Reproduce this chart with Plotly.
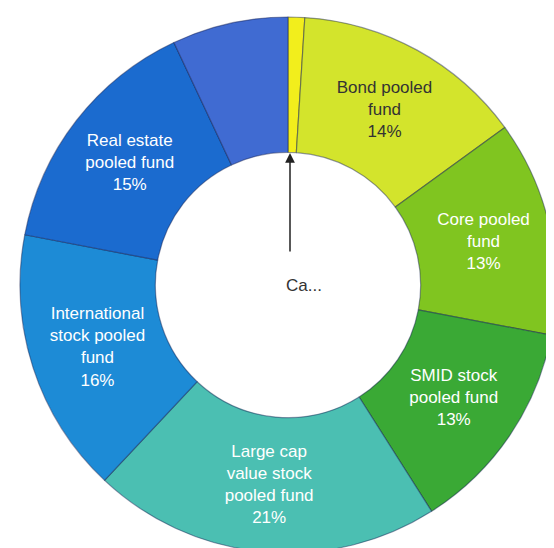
import plotly.graph_objects as go

labels = ["Cash", "Bond pooled fund", "Core pooled fund", "SMID stock pooled fund",
          "Large cap value stock pooled fund", "International stock pooled fund",
          "Real estate pooled fund", "Other"]
display_text = ["", "Bond pooled<br>fund", "Core pooled<br>fund", "SMID stock<br>pooled fund",
                "Large cap<br>value stock<br>pooled fund", "International<br>stock pooled<br>fund",
                "Real estate<br>pooled fund", ""]
values = [1, 14, 13, 13, 21, 16, 15, 7]
colors = ["#f2ee1c", "#d3e42c", "#80c520", "#3aa935", "#4bbfb2", "#1d8bd6", "#1b6bcf", "#406bd2"]
text_colors = ["#222222", "#333333", "white", "white", "white", "white", "white", "white"]

templates = ["" if t == "" else "%{text}<br>%{percent:.0%}" for t in display_text]

W, H = 554, 548
cx, cy, r = 280, 277, 268

fig = go.Figure(go.Pie(
    labels=labels,
    values=values,
    text=display_text,
    texttemplate=templates,
    textposition="inside",
    insidetextorientation="horizontal",
    sort=False,
    direction="clockwise",
    rotation=0,
    hole=0.495,
    marker=dict(colors=colors, line=dict(color="rgba(20,30,80,0.45)", width=1.2)),
    textfont=dict(family="Liberation Sans, Arial, sans-serif", size=17, color=text_colors),
    domain=dict(x=[(cx - r) / W, (cx + r) / W], y=[(H - cy - r) / H, (H - cy + r) / H]),
    showlegend=False,
    hoverinfo="label+percent",
))

# arrow from the center label to the Cash slice
fig.add_annotation(
    x=282 / W, y=(H - 145) / H, xref="paper", yref="paper",
    text="", showarrow=True, arrowhead=2, arrowsize=1.3, arrowwidth=1.5,
    arrowcolor="#222222", ax=0, ay=100,
)
fig.add_annotation(
    x=296 / W, y=(H - 277) / H, xref="paper", yref="paper",
    text="Ca...", showarrow=False,
    font=dict(family="Liberation Sans, Arial, sans-serif", size=17, color="#333333"),
)

fig.update_layout(
    width=W, height=H,
    margin=dict(l=0, r=0, t=0, b=0),
    paper_bgcolor="white", plot_bgcolor="white",
)

fig.write_html("out.html")
